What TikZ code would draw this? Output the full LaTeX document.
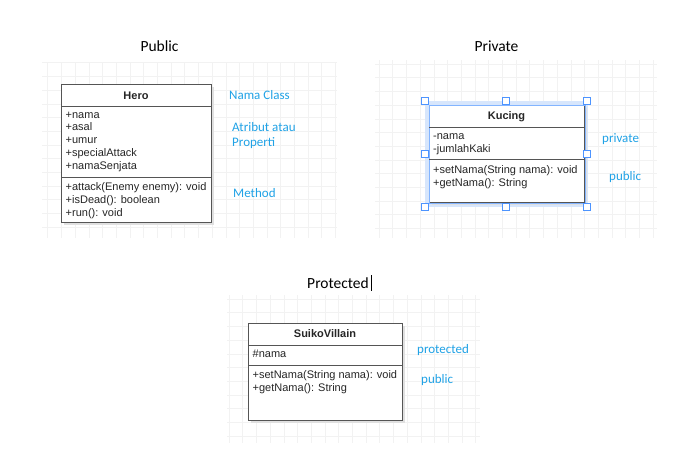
\documentclass[tikz,border=0pt]{standalone}
\usepackage{fontspec}
\setmainfont{Liberation Sans}
\newfontfamily\labelfont{Carlito}
\definecolor{gridc}{RGB}{242,242,242}
\definecolor{boxc}{RGB}{85,85,85}
\definecolor{lblue}{RGB}{32,162,230}
\definecolor{selc}{RGB}{77,148,255}
\definecolor{glowc}{RGB}{215,230,252}
\tikzset{
  umlbox/.style={draw=boxc, line width=1pt, fill=white, inner sep=0pt},
  shadowbox/.style={fill=black!12, draw=none},
  umltitle/.style={font=\fontsize{11}{13}\selectfont\bfseries, inner sep=0pt, text=black!85},
  umltext/.style={font=\fontsize{11}{12.9}\selectfont, inner sep=0pt, align=left, anchor=north west, text=black!85},
  sep/.style={draw=boxc, line width=1pt},
  bluelbl/.style={font=\labelfont\fontsize{13}{15.5}\selectfont, text=lblue, inner sep=0pt, anchor=west, align=left},
  titlelbl/.style={font=\labelfont\fontsize{15.5}{18}\selectfont, text=black, inner sep=0pt},
  handle/.style={draw=selc, fill=white, line width=0.8pt, minimum size=7pt, inner sep=0pt},
  gridline/.style={draw=gridc, line width=0.6pt}
}
\begin{document}
\begin{tikzpicture}[x=1pt,y=-1pt]
\useasboundingbox (0,0) rectangle (694,453);
\fill[white] (0,0) rectangle (694,453);
% grids
\begin{scope}
\clip (42,62) rectangle (337,238);
\foreach \i in {0,...,22} {\draw[gridline] (47.7+13.7*\i,62) -- (47.7+13.7*\i,238);}
\foreach \i in {0,...,13} {\draw[gridline] (42,62.7+13.7*\i) -- (337,62.7+13.7*\i);}
\end{scope}
\begin{scope}
\clip (375,60) rectangle (657,238);
\foreach \i in {0,...,21} {\draw[gridline] (379+13.7*\i,60) -- (379+13.7*\i,238);}
\foreach \i in {0,...,13} {\draw[gridline] (375,64+13.7*\i) -- (657,64+13.7*\i);}
\end{scope}
\begin{scope}
\clip (227,295) rectangle (480,443);
\foreach \i in {0,...,19} {\draw[gridline] (229+13.7*\i,295) -- (229+13.7*\i,443);}
\foreach \i in {0,...,11} {\draw[gridline] (227,299+13.7*\i) -- (480,299+13.7*\i);}
\end{scope}

% titles
\node[titlelbl] (tpub) at (159.5,46) {Public};
\node[titlelbl] (tpriv) at (496.5,46) {Private};
\node[titlelbl] (tprot) at (338,283) {Protected};
\coordinate (curtop) at (371,275);
\coordinate (curbot) at (371,291);
\draw[black, line width=0.8pt] (curtop) -- (curbot);

% Hero
\fill[shadowbox] (64,87) rectangle (214,225);
\node[umlbox, minimum width=150pt, minimum height=138pt, anchor=north west] (hero) at (61,84) {};
\coordinate (h1l) at (61,106); \coordinate (h1r) at (211,106);
\coordinate (h2l) at (61,177); \coordinate (h2r) at (211,177);
\draw[sep] (h1l) -- (h1r);
\draw[sep] (h2l) -- (h2r);
\node[umltitle] (herot) at (136,95.5) {Hero};
\node[umltext] (heroa) at (65.5,111.5) {+nama\\+asal\\+umur\\+specialAttack\\+namaSenjata};
\node[umltext] (herom) at (65.5,182.5) {+attack(Enemy enemy): void\\+isDead(): boolean\\+run(): void};
\node[bluelbl] (l1) at (229,95) {Nama Class};
\node[bluelbl] (l2) at (232,135.5) {Atribut atau\\Properti};
\node[bluelbl] (l3) at (233,193) {Method};

% Kucing
\fill[glowc] (425,101) rectangle (588,207);
\fill[shadowbox] (432,108) rectangle (587,205);
\node[umlbox, minimum width=155pt, minimum height=97pt, anchor=north west] (kucing) at (429,105) {};
\draw[selc!70, line width=0.7pt] (kucing.north west) rectangle (kucing.south east);
\coordinate (k1l) at (429,127); \coordinate (k1r) at (584,127);
\coordinate (k2l) at (429,159); \coordinate (k2r) at (584,159);
\draw[sep] (k1l) -- (k1r);
\draw[sep] (k2l) -- (k2r);
\node[umltitle] (kuct) at (506.5,116.5) {Kucing};
\node[umltext] (kuca) at (433,133) {-nama\\-jumlahKaki};
\node[umltext] (kucm) at (433,165.5) {+setNama(String nama): void\\+getNama(): String};
\foreach \n/\px/\py in {a/425/101,b/506/101,c/587/101,d/425/154,e/587/154,f/425/207,g/506/207,h/587/207} {
  \node[handle] (hd\n) at (\px,\py) {};
}
\node[bluelbl] (l4) at (602,139) {private};
\node[bluelbl] (l5) at (609,177) {public};

% SuikoVillain
\fill[shadowbox] (251,326) rectangle (405,423);
\node[umlbox, minimum width=154pt, minimum height=97pt, anchor=north west] (suiko) at (248,323) {};
\coordinate (s1l) at (248,345); \coordinate (s1r) at (402,345);
\coordinate (s2l) at (248,365); \coordinate (s2r) at (402,365);
\draw[sep] (s1l) -- (s1r);
\draw[sep] (s2l) -- (s2r);
\node[umltitle] (suikot) at (325,334) {SuikoVillain};
\node[umltext] (suikoa) at (252.5,350) {\#nama};
\node[umltext] (suikom) at (252.5,370.5) {+setNama(String nama): void\\+getNama(): String};
\node[bluelbl] (l6) at (417,350) {protected};
\node[bluelbl] (l7) at (421,380) {public};
\end{tikzpicture}
\end{document}
